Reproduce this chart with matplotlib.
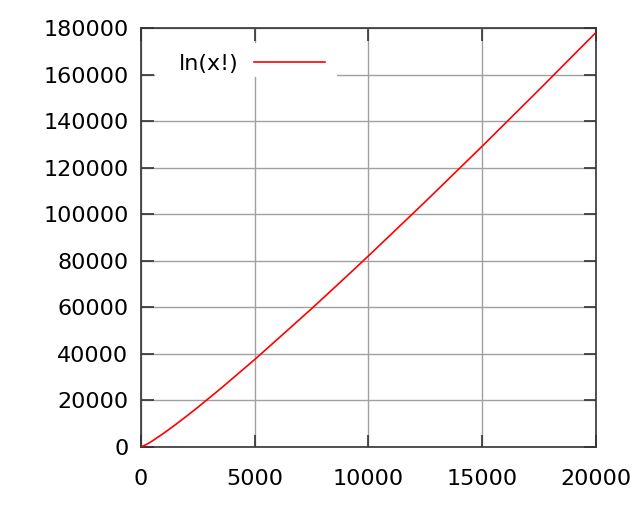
import numpy as np
from matplotlib import pyplot as plt
from matplotlib.patches import Rectangle

# values
x = [0, 250, 500, 1000, 1500, 2000, 2500, 3500, 5000, 6250, 7500, 8750, 10000,
     12500, 15000, 17500, 20000]
y = [0, 1134, 2611, 5912, 9474, 13206, 17066, 25070, 37591, 48480, 59426, 70700, 82109,
     105420, 129237, 153480, 178078]
xticks = [0, 5000, 10000, 15000, 20000]
yticks = [0, 20000, 40000, 60000, 80000, 100000, 120000, 140000, 160000, 180000]

plt.rcParams['font.family'] = 'DejaVu Sans'
fig = plt.figure(figsize=(6.4, 5.12), dpi=100)
ax = fig.add_axes([0.2203, 0.127, 0.7107, 0.818])

ax.plot(x, y, color='red', lw=1.2, label='ln(x!)', zorder=3)

ax.set_xlim(0, 20000)
ax.set_ylim(0, 180000)
ax.set_xticks(xticks)
ax.set_yticks(yticks)
ax.set_xticklabels([str(t) for t in xticks], fontsize=16)
ax.set_yticklabels([str(t) for t in yticks], fontsize=16)
ax.tick_params(direction='in', length=9, width=1.2, color='#333333',
               top=True, right=True)
ax.tick_params(axis='x', pad=16)
ax.tick_params(axis='y', pad=9)
ax.grid(True, color='#a0a0a0', lw=1.0)
ax.set_axisbelow(True)
for s in ax.spines.values():
    s.set_color('#333333')
    s.set_linewidth(1.2)

# white key box like gnuplot
ax.add_patch(Rectangle((0.031, 0.883), 0.40, 0.081, transform=ax.transAxes,
                       facecolor='white', edgecolor='none', zorder=1.5))
ax.legend(loc='center left', bbox_to_anchor=(0.083, 0.914), markerfirst=False,
          fontsize=16, frameon=False, handlelength=3.2, handletextpad=0.68,
          borderpad=0, borderaxespad=0)

fig.savefig('out.png')
